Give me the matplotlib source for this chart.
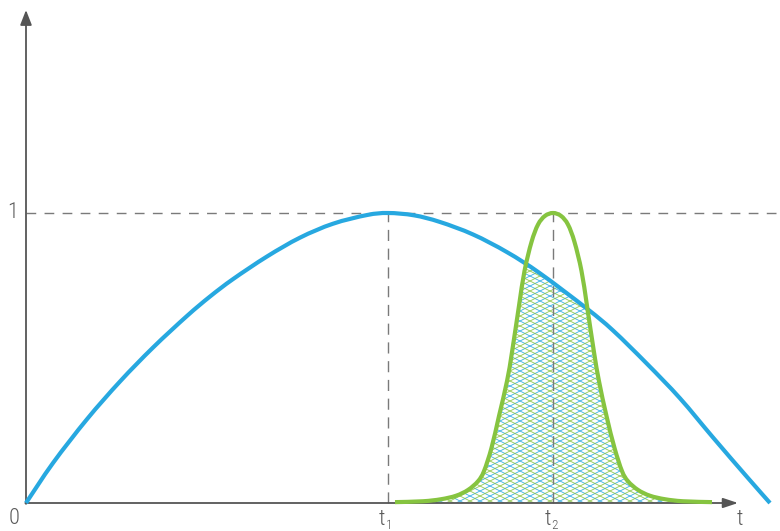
import numpy as np
import matplotlib
matplotlib.use("Agg")
import matplotlib.pyplot as plt
from matplotlib.patches import PathPatch
from matplotlib.path import Path
from matplotlib.collections import LineCollection
from matplotlib.transforms import IdentityTransform
from matplotlib import font_manager

# ---- data (t measured from the origin, y normalised so that the peaks = 1)
blue_t = [0, 27, 61, 94, 127, 161, 184, 207, 241, 274, 307, 341, 362,
          388, 414, 447, 481, 514, 561, 587, 621, 654, 687, 721, 744]
blue_y = [0.0, 0.138, 0.289, 0.419, 0.536, 0.645, 0.712, 0.772, 0.850, 0.915,
          0.963, 0.993, 1.0, 0.992, 0.969, 0.926, 0.865, 0.792, 0.670, 0.595, 0.480,
          0.361, 0.226, 0.090, 0.0]

green_t = [369, 397, 415, 430, 442, 452, 458, 465.5, 473, 481, 486,
           493, 498.5, 505.5, 512, 519, 527,
           535, 542, 548.5, 555.5, 561, 568, 573, 580.5, 588.5, 596,
           602, 612, 624, 639, 657, 686]
green_y = [0.003, 0.006, 0.013, 0.025, 0.045, 0.075, 0.11, 0.19, 0.30, 0.42, 0.52,
           0.68, 0.80, 0.90, 0.96, 0.99, 1.0,
           0.99, 0.96, 0.90, 0.80, 0.68, 0.52, 0.42, 0.30, 0.19, 0.11,
           0.075, 0.045, 0.025, 0.013, 0.006, 0.003]

t1 = 362
t2 = 527
level_one = 1.0

label_origin = "0"
label_t = "t"
label_one = "1"
sub_t1 = "1"
sub_t2 = "2"

BLUE = "#27a8e0"
GREEN = "#86c440"
AXIS = "#555555"
DASH = "#7a7a7a"
TEXT = "#5a5a5a"

avail = {f.name for f in font_manager.fontManager.ttflist}
fam = [f for f in ["Liberation Sans Narrow", "Roboto Condensed", "Roboto", "DejaVu Sans"] if f in avail]


def smooth_path_vertices(xs, ys):
    """Catmull-Rom spline through the points, as cubic Bezier path pieces."""
    p = np.column_stack([xs, ys]).astype(float)
    n = len(p)
    verts = [p[0]]
    codes = [Path.MOVETO]
    for i in range(n - 1):
        p0 = p[i - 1] if i > 0 else p[i]
        p1 = p[i]
        p2 = p[i + 1]
        p3 = p[i + 2] if i + 2 < n else p[i + 1]
        c1 = p1 + (p2 - p0) / 6.0
        c2 = p2 - (p3 - p1) / 6.0
        verts += [c1, c2, p2]
        codes += [Path.CURVE4] * 3
    return verts, codes


fig = plt.figure(figsize=(7.8, 5.31), dpi=100)
ax = fig.add_axes([0, 0, 1, 1])
ax.set_xlim(-26, 754)
ax.set_ylim((503 - 531) / 290, 503 / 290)
ax.axis("off")

bv, bc = smooth_path_vertices(blue_t, blue_y)
gv, gc = smooth_path_vertices(green_t, green_y)

# area under green (clip region for the hatch)
green_area = PathPatch(Path(gv + [np.array([green_t[-1], 0.0]), np.array([green_t[0], 0.0]), gv[0]],
                            gc + [Path.LINETO, Path.LINETO, Path.CLOSEPOLY]),
                       facecolor="none", edgecolor="none", transform=ax.transData)
ax.add_patch(green_area)

# cross hatch in two colours (decoration), clipped to the green area
W, H = 780, 531
period = 20.0
slope = 0.5
for color, offset in [(BLUE, 0.0), (GREEN, period / 2)]:
    segs = []
    for sgn in (1, -1):
        c = -1600.0
        while c < W + 1600:
            xs = np.array([-100.0, W + 100.0])
            ys = slope * sgn * (xs - (c + offset))
            segs.append(np.column_stack([xs, ys]))
            c += period
    lc = LineCollection(segs, colors=color, linewidths=0.65, alpha=0.85, zorder=2,
                        transform=IdentityTransform())
    ax.add_collection(lc)
    lc.set_clip_path(green_area)

# white mask above the blue curve so the hatch only shows under both curves
mask = PathPatch(Path(bv + [np.array([blue_t[-1], 1.3]), np.array([blue_t[0], 1.3]), bv[0]],
                      bc + [Path.LINETO, Path.LINETO, Path.CLOSEPOLY]),
                 facecolor="white", edgecolor="none", zorder=2.5, transform=ax.transData)
ax.add_patch(mask)

# dashed guides
ax.plot([0, 754], [level_one, level_one], ls=(0, (7, 6)), color=DASH, lw=1.0, zorder=3)
ax.plot([t1, t1], [0, level_one], ls=(0, (8, 5.5)), color=DASH, lw=1.0, zorder=3)
ax.plot([t2, t2], [0, level_one], ls=(0, (8, 5.5)), color=DASH, lw=1.0, zorder=3)

# axes with arrows
ax.annotate("", xy=(0, 1.70), xytext=(0, -0.003),
            arrowprops=dict(arrowstyle="-|>,head_length=0.9,head_width=0.35",
                            color=AXIS, lw=1.3, shrinkA=0, shrinkB=0), zorder=4)
ax.annotate("", xy=(712, 0), xytext=(-0.7, 0),
            arrowprops=dict(arrowstyle="-|>,head_length=0.9,head_width=0.3",
                            color=AXIS, lw=1.3, shrinkA=0, shrinkB=0), zorder=4)

# curves
ax.add_patch(PathPatch(Path(bv, bc), facecolor="none", edgecolor=BLUE, lw=3.0,
                       zorder=5, capstyle="butt"))
ax.add_patch(PathPatch(Path(gv, gc), facecolor="none", edgecolor=GREEN, lw=3.0,
                       zorder=5, capstyle="butt"))

# labels
tk = dict(color=TEXT, fontsize=16, family=fam, fontweight="light", va="center", ha="center")
sk = dict(color=TEXT, fontsize=9.5, family=fam, fontweight="light", va="center", ha="center")
ax.text(-12, -0.055, label_origin, **tk)
ax.text(t1 - 6, -0.057, label_t, **tk)
ax.text(t1 + 1, -0.077, sub_t1, **sk)
ax.text(t2 - 5, -0.057, label_t, **tk)
ax.text(t2 + 2, -0.077, sub_t2, **sk)
ax.text(714, -0.057, label_t, **tk)
ax.text(-13, level_one, label_one, **tk)

fig.savefig("out.png", dpi=100)
